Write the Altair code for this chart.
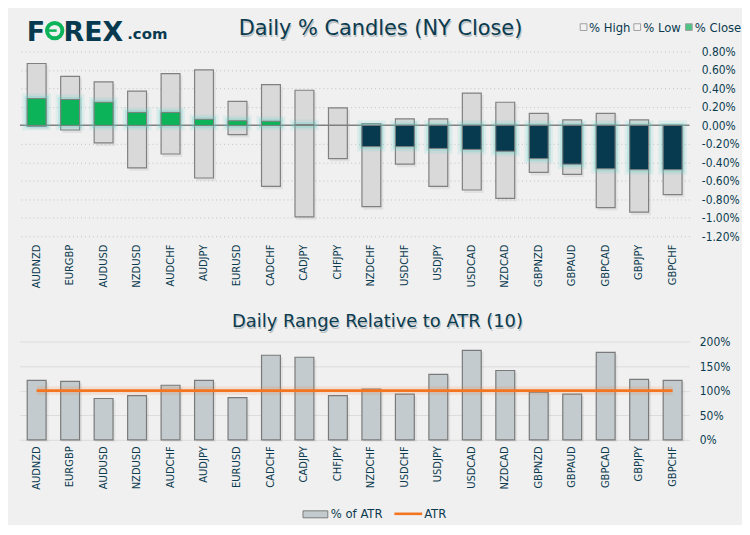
import altair as alt
import pandas as pd

# ---------------- data ----------------
pairs = ["AUDNZD", "EURGBP", "AUDUSD", "NZDUSD", "AUDCHF", "AUDJPY", "EURUSD",
         "CADCHF", "CADJPY", "CHFJPY", "NZDCHF", "USDCHF", "USDJPY", "USDCAD",
         "NZDCAD", "GBPNZD", "GBPAUD", "GBPCAD", "GBPJPY", "GBPCHF"]
pct_high = [0.67, 0.53, 0.47, 0.37, 0.56, 0.60, 0.26, 0.44, 0.38, 0.19,
            0.02, 0.07, 0.07, 0.35, 0.25, 0.13, 0.06, 0.13, 0.06, 0.00]
pct_low = [-0.01, -0.05, -0.19, -0.46, -0.31, -0.57, -0.10, -0.66, -0.99, -0.36,
           -0.88, -0.42, -0.66, -0.70, -0.79, -0.51, -0.53, -0.89, -0.94, -0.75]
pct_close = [0.29, 0.28, 0.25, 0.14, 0.14, 0.065, 0.05, 0.045, 0.008, 0.0,
             -0.23, -0.23, -0.25, -0.26, -0.28, -0.36, -0.42, -0.47, -0.48, -0.48]
pct_of_atr = [121, 119, 84, 90, 111, 121, 86, 172, 168, 90,
              103, 93, 133, 182, 141, 97, 93, 178, 123, 121]
atr_level = [100, 100, 100, 100, 100, 100, 100, 100, 100, 100,
             100, 100, 100, 100, 100, 100, 100, 100, 100, 100]
y1_ticks = [0.8, 0.6, 0.4, 0.2, 0.0, -0.2, -0.4, -0.6, -0.8, -1.0, -1.2]
y2_ticks = [0, 50, 100, 150, 200]

df = pd.DataFrame({"pair": pairs, "high": pct_high, "low": pct_low, "close": pct_close})
df_atr = pd.DataFrame({"pair": pairs, "pct": pct_of_atr, "atr": atr_level})
one = pd.DataFrame({"k": [0]})

# ---------------- style ----------------
W, H1, H2 = 674, 186, 99
DARK = "#0b3b4f"
GREEN = "#0cb358"
NAVY = "#073a4f"
ORANGE = "#f47521"
NARROW = "Liberation Sans Narrow, DejaVu Sans Condensed, sans-serif"
LABELF = "DejaVu Sans"


def xenc(pad):
    return alt.X("pair:N", sort=pairs,
                 scale=alt.Scale(paddingInner=0.1, paddingOuter=0.05),
                 axis=alt.Axis(title=None, labelAngle=-90, labelFont=LABELF,
                               labelFontSize=10, labelColor=DARK, labelPadding=pad,
                               ticks=False, domain=False, grid=False))


yscale1 = alt.Scale(domain=[-1.2, 0.8], nice=False, zero=False)
yaxis1 = alt.Axis(orient="right", values=y1_ticks, title=None,
                  labelExpr="(datum.value < -0.0001 ? '-' : '') + format(abs(datum.value), '.2f') + '%'",
                  grid=True, gridDash=[1, 3], gridColor="#c2c2c2", gridWidth=1,
                  ticks=False, domain=False, labelFont=NARROW, labelFontSize=12,
                  labelColor=DARK, labelPadding=12)
yscale2 = alt.Scale(domain=[0, 200], nice=False)
yaxis2 = alt.Axis(orient="right", values=y2_ticks, title=None,
                  labelExpr="datum.value + '%'",
                  grid=True, gridColor="#dcdcdc", gridWidth=1,
                  ticks=False, domain=False, labelFont=NARROW, labelFontSize=12,
                  labelColor=DARK, labelPadding=10)


def txt(s, x, y, size, color, font=NARROW, align="left", weight="normal", baseline="middle", opacity=1):
    return alt.Chart(one).mark_text(text=s, align=align, baseline=baseline, font=font,
                                    fontSize=size, color=color, fontWeight=weight,
                                    opacity=opacity).encode(x=alt.value(x), y=alt.value(y))


# ---------------- top chart ----------------
base = alt.Chart(df).encode(x=xenc(8))

bound1 = alt.Chart(one).mark_rect(opacity=0).encode(
    x=alt.value(-12), x2=alt.value(722), y=alt.value(-42), y2=alt.value(H1 + 62))

box_shadow = base.mark_bar(size=20, color="#000000", opacity=0.06, xOffset=2,
                           yOffset=2, y2Offset=3).encode(
    y=alt.Y("high:Q", scale=yscale1, axis=yaxis1), y2="low:Q")
box = base.mark_bar(size=19, fill="#d9d9d9", stroke="#808080", strokeWidth=1.2).encode(
    y=alt.Y("high:Q", scale=yscale1, axis=yaxis1), y2="low:Q")

zero = alt.Chart(one).transform_calculate(z="0").mark_rule(
    color="#808080", strokeWidth=1.5).encode(
    y=alt.Y("z:Q", scale=yscale1, axis=yaxis1), x=alt.value(0), x2=alt.value(W))

cbase = base.transform_filter("datum.close != 0").transform_calculate(
    top="max(datum.close, 0)", bot="min(datum.close, 0)")
glow_a = cbase.mark_bar(size=29, color="#63d2c9", opacity=0.14, yOffset=-5, y2Offset=5).encode(
    y=alt.Y("top:Q", scale=yscale1, axis=yaxis1), y2="bot:Q")
glow_b = cbase.mark_bar(size=24, color="#63d2c9", opacity=0.28, yOffset=-2.5, y2Offset=2.5).encode(
    y=alt.Y("top:Q", scale=yscale1, axis=yaxis1), y2="bot:Q")
close_bar = cbase.mark_bar(size=19, stroke="#7f7f7f", strokeWidth=1).encode(
    y=alt.Y("top:Q", scale=yscale1, axis=yaxis1), y2="bot:Q",
    color=alt.condition("datum.close >= 0", alt.value(GREEN), alt.value(NAVY)))

# logo + title + legend (top)
logo_f = txt("F", 7, -11, 27, NAVY, font="DejaVu Sans", weight="bold", baseline="alphabetic")
logo_o = alt.Chart(one).mark_point(shape="circle", size=240, filled=False, stroke=GREEN,
                                   strokeWidth=4, opacity=1).encode(
    x=alt.value(35), y=alt.value(-21))
logo_o_bar = alt.Chart(one).mark_rule(color=GREEN, strokeWidth=2.5).encode(
    x=alt.value(29), x2=alt.value(37), y=alt.value(-21))
logo_rex = txt("REX", 44, -11, 27, NAVY, font="DejaVu Sans", weight="bold", baseline="alphabetic")
logo_com = txt(".com", 108, -13, 15, NAVY, font="DejaVu Sans", weight="bold", baseline="alphabetic")
title1_sh = txt("Daily % Candles (NY Close)", 364, -21, 21, "#7f8c90", font="DejaVu Sans",
                align="center", opacity=0.45)
title1 = txt("Daily % Candles (NY Close)", 363, -22.5, 21, DARK, font="DejaVu Sans", align="center")

sq_hi = alt.Chart(one).mark_point(shape="square", size=46, filled=True, fill="#f4f4f4",
                                  stroke="#808080", strokeWidth=1).encode(
    x=alt.value(567.5), y=alt.value(-24.5))
sq_lo = alt.Chart(one).mark_point(shape="square", size=46, filled=True, fill="#f4f4f4",
                                  stroke="#808080", strokeWidth=1).encode(
    x=alt.value(621.5), y=alt.value(-24.5))
sq_cl = alt.Chart(one).mark_point(shape="square", size=46, filled=True, fill=GREEN,
                                  stroke="#808080", strokeWidth=1).encode(
    x=alt.value(673.5), y=alt.value(-24.5))
lg_hi = txt("% High", 573, -24, 13, DARK)
lg_lo = txt("% Low", 627.5, -24, 13, DARK)
lg_cl = txt("% Close", 679.5, -24, 13, DARK)

top = alt.layer(bound1, box_shadow, box, zero, glow_a, glow_b, close_bar,
                logo_f, logo_o, logo_o_bar, logo_rex, logo_com, title1_sh, title1,
                sq_hi, sq_lo, sq_cl, lg_hi, lg_lo, lg_cl).properties(width=W, height=H1)

# ---------------- bottom chart ----------------
base2 = alt.Chart(df_atr).encode(x=xenc(6))
bound2 = alt.Chart(one).mark_rect(opacity=0).encode(
    x=alt.value(-12), x2=alt.value(722), y=alt.value(-44), y2=alt.value(H2 + 84))
bar_shadow = base2.mark_bar(size=20, color="#000000", opacity=0.06, xOffset=2, yOffset=2).encode(
    y=alt.Y("pct:Q", scale=yscale2, axis=yaxis2))
bars2 = base2.mark_bar(size=19, fill="#c3cbce", stroke="#7a7a7a", strokeWidth=1.2).encode(
    y=alt.Y("pct:Q", scale=yscale2, axis=yaxis2))
atr_glow = base2.mark_line(color=ORANGE, strokeWidth=9, opacity=0.13).encode(
    y=alt.Y("atr:Q", scale=yscale2, axis=yaxis2))
atr_line = base2.mark_line(color=ORANGE, strokeWidth=2.6).encode(
    y=alt.Y("atr:Q", scale=yscale2, axis=yaxis2))

title2_sh = txt("Daily Range Relative to ATR (10)", 361, -18, 18, "#7f8c90", font="DejaVu Sans",
                align="center", opacity=0.45)
title2 = txt("Daily Range Relative to ATR (10)", 360, -19.5, 18, DARK, font="DejaVu Sans", align="center")

lg_rect = alt.Chart(one).mark_rect(fill="#c3cbce", stroke="#7a7a7a", strokeWidth=1).encode(
    x=alt.value(285), x2=alt.value(310), y=alt.value(170.5), y2=alt.value(177.5))
lg_atr_txt = txt("% of ATR", 313, 174, 13, DARK)
lg_line = alt.Chart(one).mark_rule(color=ORANGE, strokeWidth=2.6).encode(
    x=alt.value(377), x2=alt.value(405), y=alt.value(173.5))
lg_line_txt = txt("ATR", 407, 174, 13, DARK)

bottom = alt.layer(bound2, bar_shadow, bars2, atr_glow, atr_line, title2_sh, title2,
                   lg_rect, lg_atr_txt, lg_line, lg_line_txt).properties(width=W, height=H2)

chart = alt.vconcat(top, bottom, spacing=0).properties(
    padding=0, background="#f0f0f0"
).configure_view(stroke=None)

chart.save("out.html", embed_options={"renderer": "svg", "actions": False})
